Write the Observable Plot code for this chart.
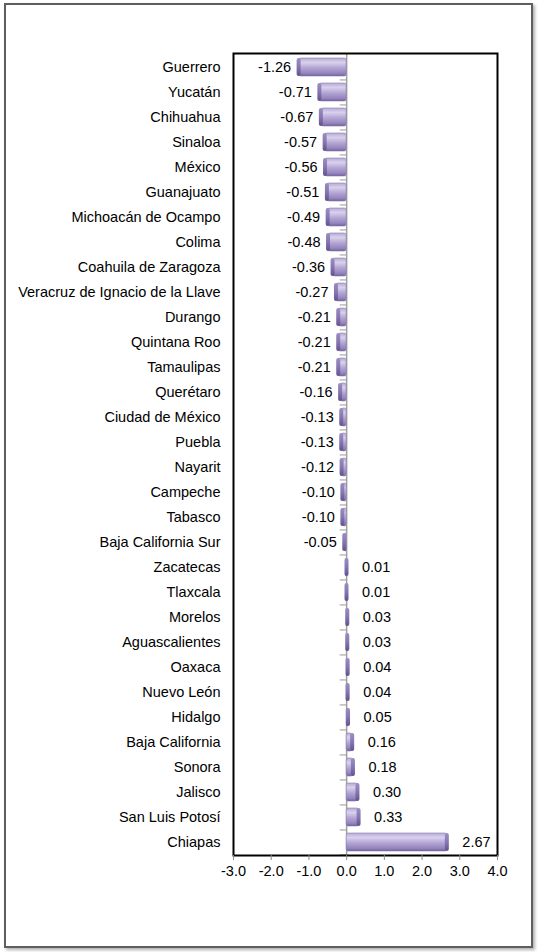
<!DOCTYPE html>
<html>
<head>
<meta charset="utf-8">
<script src="https://cdn.jsdelivr.net/npm/d3@7"></script>
<script src="https://cdn.jsdelivr.net/npm/@observablehq/plot@0.6"></script>
<style>
  html, body { margin: 0; padding: 0; background: #fff; }
  #wrap { position: relative; width: 538px; height: 952px; overflow: hidden; }
  #border { position: absolute; left: 4px; top: 3px; width: 525px; height: 941px;
            border: 2px solid #5e5e5e; box-shadow: 2px 2px 3px #b0b0b0; }
  #chart { position: absolute; left: 0; top: 0; }
</style>
</head>
<body>
<div id="wrap"><div id="border"></div><div id="chart"></div></div>
<script>
const states = ["Guerrero","Yucatán","Chihuahua","Sinaloa","México","Guanajuato",
  "Michoacán de Ocampo","Colima","Coahuila de Zaragoza","Veracruz de Ignacio de la Llave",
  "Durango","Quintana Roo","Tamaulipas","Querétaro","Ciudad de México","Puebla","Nayarit",
  "Campeche","Tabasco","Baja California Sur","Zacatecas","Tlaxcala","Morelos","Aguascalientes",
  "Oaxaca","Nuevo León","Hidalgo","Baja California","Sonora","Jalisco","San Luis Potosí","Chiapas"];
const values = [-1.26,-0.71,-0.67,-0.57,-0.56,-0.51,-0.49,-0.48,-0.36,-0.27,
  -0.21,-0.21,-0.21,-0.16,-0.13,-0.13,-0.12,-0.10,-0.10,-0.05,
  0.01,0.01,0.03,0.03,0.04,0.04,0.05,0.16,0.18,0.30,0.33,2.67];
const xTicks = [-3,-2,-1,0,1,2,3,4];

const data = states.map((s, i) => ({state: s, value: values[i]}));
const neg = data.filter(d => d.value < 0);
const pos = data.filter(d => d.value >= 0);
const step = (855 - 53) / (states.length + 0.24);

const font = "'Liberation Sans', Arial, Helvetica, sans-serif";

const chart = Plot.plot({
  width: 538,
  height: 952,
  marginLeft: 233,
  marginRight: 41,
  marginTop: 53,
  marginBottom: 97,
  style: {fontFamily: font, fontSize: "14.5px", color: "#000", background: "transparent"},
  x: {domain: [-3, 4], ticks: xTicks, tickFormat: d => d.toFixed(1)},
  y: {domain: states, paddingInner: 0.3, paddingOuter: 0.12},
  marks: [
    Plot.ruleX([0], {stroke: "#a0a0a0", strokeWidth: 1.5}),
    Plot.ruleY(states, {y: d => d, x1: -0.17, x2: 0, dy: step / 2, stroke: "#9a9a9a"}),
    Plot.barX(data, {y: "state", x: "value", fill: "url(#barGrad)", stroke: "#8a7cb0", strokeWidth: 0.6, rx: 2}),
    Plot.barX(data, {y: "state", x1: "value", x2: "value", insetLeft: -2, insetRight: -2, fill: "url(#capGrad)", rx: 2}),
    Plot.text(neg, {y: "state", x: "value", text: d => d.value.toFixed(2), textAnchor: "end", dx: -8, fill: "#000"}),
    Plot.text(pos, {y: "state", x: "value", text: d => d.value.toFixed(2), textAnchor: "start", dx: 15, fill: "#000"}),
    Plot.frame({stroke: "#000", strokeWidth: 2}),
    Plot.axisY({tickSize: 0, tickPadding: 13, label: null, fill: "#000"}),
    Plot.axisX({ticks: xTicks, tickFormat: d => d.toFixed(1), tickSize: 5, tickPadding: 5, label: null, stroke: "#8a8a8a", fill: "#000"})
  ]
});

const ns = "http://www.w3.org/2000/svg";
const defs = document.createElementNS(ns, "defs");
defs.innerHTML = `<linearGradient id="barGrad" x1="0" y1="0" x2="0" y2="1">
  <stop offset="0" stop-color="#b7aad6"/>
  <stop offset="0.25" stop-color="#d9d1ec"/>
  <stop offset="0.55" stop-color="#b3a5d4"/>
  <stop offset="0.85" stop-color="#9584bd"/>
  <stop offset="1" stop-color="#6f5f98"/>
</linearGradient>
<linearGradient id="capGrad" x1="0" y1="0" x2="0" y2="1">
  <stop offset="0" stop-color="#9c8fc0"/>
  <stop offset="0.5" stop-color="#8676b3"/>
  <stop offset="1" stop-color="#62528c"/>
</linearGradient>`;
chart.insertBefore(defs, chart.firstChild);
document.getElementById("chart").appendChild(chart);
</script>
</body>
</html>
